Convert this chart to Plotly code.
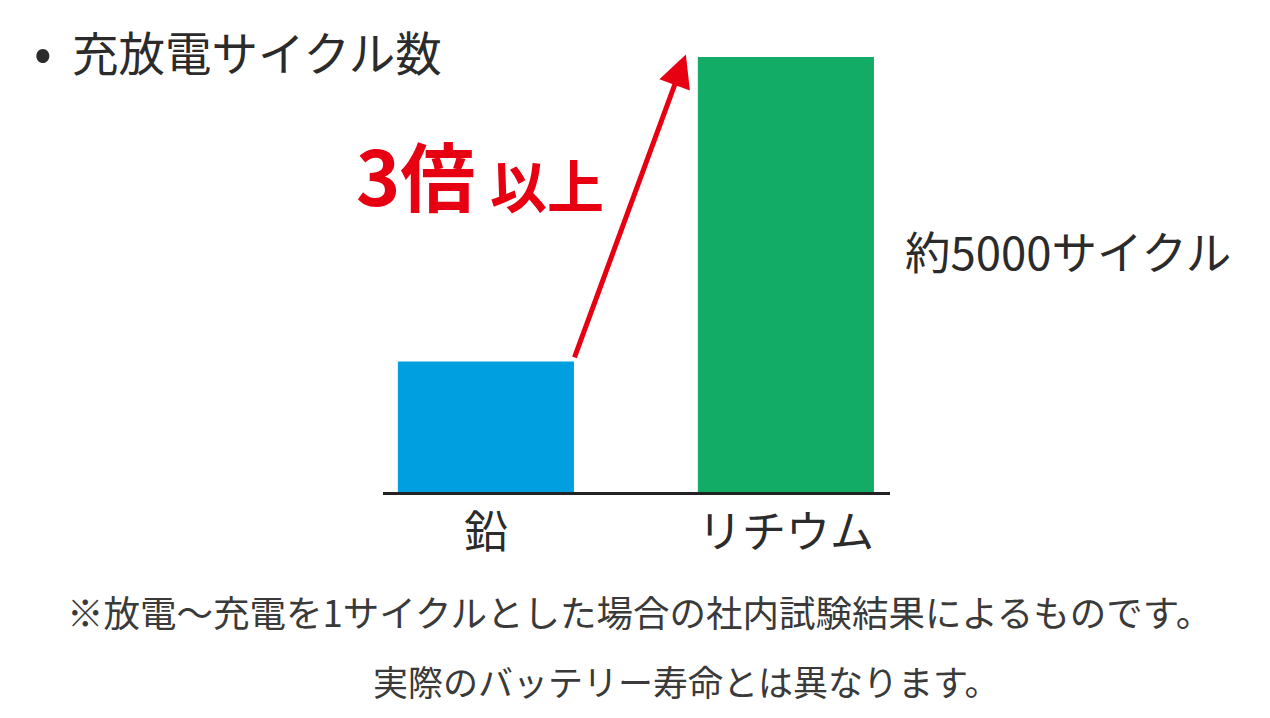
import plotly.graph_objects as go

# ---- data ----
categories = ["鉛", "リチウム"]
cycles = [1500, 5000]
bar_colors = ["#00A0E0", "#12AC66"]
value_label = "約5000サイクル"
title_bullet = "•"
title_text = "充放電サイクル数"
ratio_main = "3倍"
ratio_sub = "以上"
notes = ["※放電〜充電を1サイクルとした場合の社内試験結果によるものです。",
         "実際のバッテリー寿命とは異なります。"]

W, H = 1270, 718
OFF = 8  # page body margin
L, T = 383 - OFF, 40 - OFF
PW, PH = 507, 452
R, B = W - L - PW, H - T - PH
FONT = "Noto Sans CJK JP"
TXT = "#2b2b2b"
RED = "#E60012"
BAR_W = 0.587


def px(x):
    return (x - OFF - L) / PW


def py(y):
    return (T + PH - (y - OFF)) / PH


fig = go.Figure()
fig.add_trace(go.Bar(
    x=categories, y=cycles, width=BAR_W,
    marker=dict(color=bar_colors, line=dict(width=0)),
    hoverinfo="skip",
))

ann = []
# title
ann.append(dict(text=title_bullet, xref="paper", yref="paper", x=px(32), y=py(49),
                xanchor="left", yanchor="middle", showarrow=False,
                font=dict(family=FONT, size=52, color=TXT)))
ann.append(dict(text=title_text, xref="paper", yref="paper", x=px(70), y=py(51),
                xanchor="left", yanchor="middle", showarrow=False,
                font=dict(family=FONT, size=46.5, color=TXT)))
# value label
ann.append(dict(text=value_label, xref="paper", yref="paper", x=px(903), y=py(250),
                xanchor="left", yanchor="middle", showarrow=False,
                font=dict(family=FONT, size=45.5, color=TXT)))
# arrow from lead bar top to lithium bar top
ann.append(dict(x=1 - BAR_W / 2 - 0.04, y=cycles[1] + 30,
                ax=0 + BAR_W / 2, ay=cycles[0] + 30,
                xref="x", yref="y", axref="x", ayref="y",
                text="", showarrow=True, arrowhead=2, arrowsize=1.3,
                arrowwidth=5, arrowcolor=RED, standoff=0, startstandoff=0))
# 3倍以上
ann.append(dict(text="<b>" + ratio_main + "</b>", xref="paper", yref="paper",
                x=px(477), y=py(230), xanchor="right", yanchor="bottom",
                showarrow=False, font=dict(family=FONT, size=75, color=RED)))
ann.append(dict(text="<b>" + ratio_sub + "</b>", xref="paper", yref="paper",
                x=px(488), y=py(226), xanchor="left", yanchor="bottom",
                showarrow=False, font=dict(family=FONT, size=57, color=RED)))
# footnotes
ann.append(dict(text=notes[0], xref="paper", yref="paper", x=px(639), y=py(611),
                xanchor="center", yanchor="middle", showarrow=False,
                font=dict(family=FONT, size=36.5, color="#3a3a3a")))
ann.append(dict(text=notes[1], xref="paper", yref="paper", x=px(686), y=py(680),
                xanchor="center", yanchor="middle", showarrow=False,
                font=dict(family=FONT, size=35, color="#3a3a3a")))

fig.update_layout(
    width=W, height=H,
    margin=dict(l=L, r=R, t=T, b=B, pad=0),
    paper_bgcolor="white", plot_bgcolor="white",
    showlegend=False,
    annotations=ann,
    xaxis=dict(type="category", range=[-0.343, 1.347], showgrid=False,
               showline=True, linecolor="#222222", linewidth=2.5,
               ticks="", ticklabelstandoff=0,
               tickfont=dict(family=FONT, size=44, color=TXT),
               fixedrange=True, zeroline=False),
    yaxis=dict(range=[0, cycles[1] * PH / 435], visible=False, showgrid=False,
               zeroline=False, fixedrange=True),
)

fig.write_html("out.html", config={"displayModeBar": False})
